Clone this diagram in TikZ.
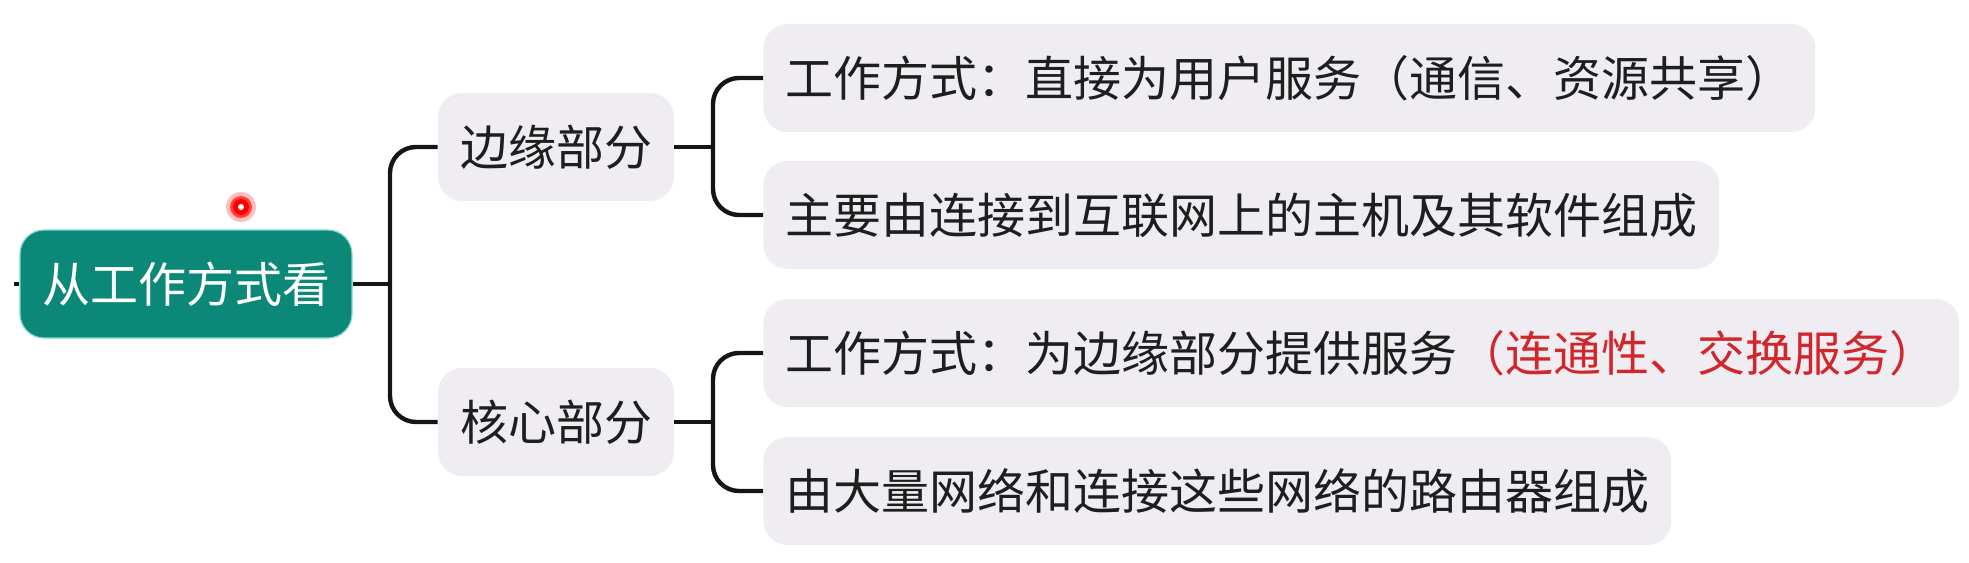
\documentclass[tikz,border=0pt]{standalone}
\usepackage{fontspec}
\newfontfamily\cjk{Noto Sans CJK SC}
\usepackage{tikz}
\definecolor{verdeRaiz}{HTML}{0B8878}
\definecolor{bordeRaiz}{HTML}{7ED9CF}
\definecolor{grisCaja}{HTML}{EFEDF1}
\definecolor{negroLinea}{HTML}{151515}
\definecolor{textoOscuro}{HTML}{1E1E1E}
\definecolor{rojoNota}{HTML}{D1262B}
\definecolor{blanco}{HTML}{FFFFFF}

\begin{document}
\begin{tikzpicture}[x=0.5pt, y=-0.5pt,
    every node/.style={font=\cjk\fontsize{24}{28}\selectfont},
    caja/.style={fill=grisCaja, rounded corners=12pt, text=textoOscuro,
                 minimum height=54pt, inner xsep=11pt, inner ysep=0pt},
    enlace/.style={negroLinea, line width=2.2pt}]

  \useasboundingbox (0,0) rectangle (1969,562);

  \def\XR{186}   % centro de la raíz
  \def\XM{556}   % centro de las dos partes
  \def\XH{763}   % borde izquierdo de las hojas
  \def\XT{390}   % tronco raíz
  \def\XB{713}   % tronco de cada parte

  % ── Raíz ──────────────────────────────────────────────────
  \node[caja, fill=verdeRaiz, draw=bordeRaiz, line width=0.6pt,
        text=blanco] (raiz) at (\XR,284) {从工作方式看};
  \coordinate (entrada) at (14,284);
  \draw[enlace] (entrada) -- (raiz.west);

  % ── Partes ────────────────────────────────────────────────
  \node[caja] (borde) at (\XM,147) {边缘部分};
  \node[caja] (nucleo) at (\XM,422) {核心部分};

  % ── Hojas ─────────────────────────────────────────────────
  \node[caja, anchor=west] (bordeModo) at (\XH,78)
    {工作方式：直接为用户服务（通信、资源共享）};
  \node[caja, anchor=west] (bordeHost) at (\XH,215)
    {主要由连接到互联网上的主机及其软件组成};
  \node[caja, anchor=west] (nucleoModo) at (\XH,353)
    {工作方式：为边缘部分提供服务\textcolor{rojoNota}{（连通性、交换服务）}};
  \node[caja, anchor=west] (nucleoRed) at (\XH,491)
    {由大量网络和连接这些网络的路由器组成};

  % ── Conectores ────────────────────────────────────────────
  \coordinate (jRaiz) at (\XT,284);
  \draw[enlace] (raiz.east) -- (jRaiz);
  \draw[enlace, rounded corners=13pt] (jRaiz) |- (borde.west);
  \draw[enlace, rounded corners=13pt] (jRaiz) |- (nucleo.west);

  \coordinate (jBorde) at (\XB,147);
  \draw[enlace] (borde.east) -- (jBorde);
  \draw[enlace, rounded corners=13pt] (jBorde) |- (bordeModo.west);
  \draw[enlace, rounded corners=13pt] (jBorde) |- (bordeHost.west);

  \coordinate (jNucleo) at (\XB,422);
  \draw[enlace] (nucleo.east) -- (jNucleo);
  \draw[enlace, rounded corners=13pt] (jNucleo) |- (nucleoModo.west);
  \draw[enlace, rounded corners=13pt] (jNucleo) |- (nucleoRed.west);

  % ── Puntero rojo ──────────────────────────────────────────
  \fill[red!25] (241,207) circle (7.5pt);
  \fill[red!75] (241,207) circle (5.5pt);
  \fill[red] (241,207) circle (4pt);
  \fill[blanco] (241,207) circle (1.5pt);

\end{tikzpicture}
\end{document}
